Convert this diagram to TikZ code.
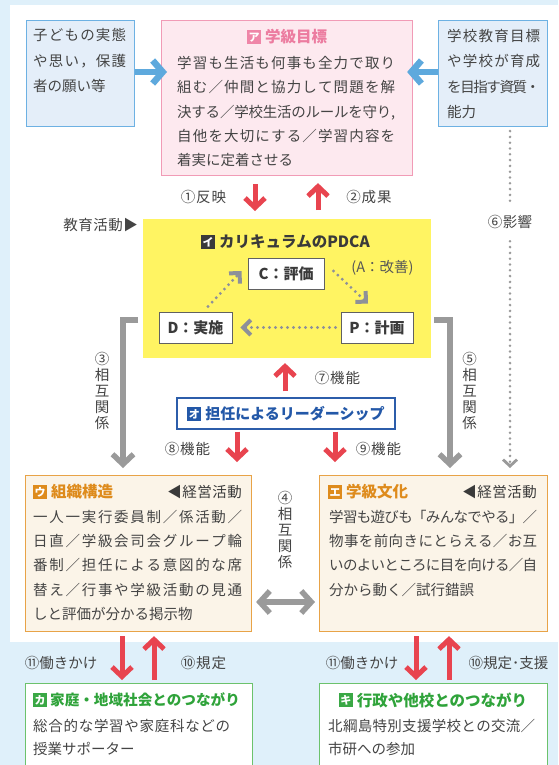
\documentclass[tikz,border=0pt]{standalone}
\usepackage{fontspec}
\setmainfont{Noto Sans CJK JP}
\usetikzlibrary{arrows.meta,calc}
\definecolor{bgblue}{HTML}{DFF0FA}
\definecolor{bbfill}{HTML}{E4EEF9}
\definecolor{bbdraw}{HTML}{6DB1E3}
\definecolor{pkfill}{HTML}{FDE9EF}
\definecolor{pkdraw}{HTML}{F19BB6}
\definecolor{pktext}{HTML}{EC7CA0}
\definecolor{pktag}{HTML}{EF86A8}
\definecolor{yel}{HTML}{FFF462}
\definecolor{ldraw}{HTML}{2C5DAA}
\definecolor{ltext}{HTML}{2358A8}
\definecolor{ordraw}{HTML}{E8A347}
\definecolor{orfill}{HTML}{FBF4E8}
\definecolor{ortext}{HTML}{DE8B1C}
\definecolor{grdraw}{HTML}{6CC26C}
\definecolor{grtext}{HTML}{2FA33A}
\definecolor{grtag}{HTML}{3AA845}
\definecolor{arred}{HTML}{E8444F}
\definecolor{argray}{HTML}{9A9A9A}
\definecolor{pdgray}{HTML}{8E9099}
\definecolor{arblue}{HTML}{5EA9DD}
\definecolor{txt}{HTML}{444444}
\definecolor{dark}{HTML}{3A3A3A}
\newdimen\cjkgap
\cjkgap=0pt
\makeatletter
\def\sprd#1{\sprd@b#1\relax}
\def\sprd@b#1{#1\sprd@a}
\def\sprd@a#1{\ifx#1\relax\else\hskip\cjkgap plus 1fil minus 1fil\relax#1\expandafter\sprd@a\fi}
\makeatother
\newcommand\jl[2]{\makebox[#1][s]{\sprd{#2}}}
\newcommand\nl[1]{\hbox{\sprd{#1}}}
\newcommand\lbl[2][1pt]{\hbox{\cjkgap=#1\relax\sprd{#2}}}
\newcommand\tg[2]{{\setlength{\fboxsep}{0pt}\colorbox{#1}{\makebox[14pt][c]{\rule[-1.3pt]{0pt}{14pt}\raisebox{1.3pt}{\color{white}\fontsize{11}{11}\selectfont\bfseries #2}}}}}
\tikzset{
  boxbase/.style={inner sep=0pt, anchor=north west, line width=1.1pt},
  bluebox/.style={boxbase, draw=bbdraw, fill=bbfill},
  pinkbox/.style={boxbase, draw=pkdraw, fill=pkfill},
  yelbox/.style={boxbase, fill=yel},
  pdcabox/.style={boxbase, anchor=center, draw=dark!80, line width=0.9pt, fill=white, text=dark, font=\fontsize{15}{18}\selectfont\bfseries},
  leadbox/.style={boxbase, anchor=center, draw=ldraw, fill=white, text=ltext, font=\fontsize{15}{18}\selectfont\bfseries},
  orbox/.style={boxbase, draw=ordraw, fill=orfill},
  grbox/.style={boxbase, draw=grdraw, fill=white},
  bodytxt/.style={inner sep=0pt, anchor=north west, align=left, text=txt},
  titletxt/.style={inner sep=0pt, font=\fontsize{15.5}{18}\selectfont\bfseries},
  lbltxt/.style={inner sep=0pt, text=txt, font=\fontsize{14.5}{18}\selectfont},
  vlbl/.style={inner sep=0pt, text=txt, align=center, font=\fontsize{14.5}{16.2}\selectfont},
  redarr/.style={draw=arred, line width=5pt, -{Straight Barb[length=9.5pt,width=20pt]}},
  bluearr/.style={draw=arblue, line width=6.5pt, -{Straight Barb[length=10pt,width=23pt]}},
  grayarr/.style={draw=argray, line width=5.5pt, -{Straight Barb[length=10pt,width=21pt]}},
  grayboth/.style={draw=argray, line width=5.5pt, {Straight Barb[length=10pt,width=22pt]}-{Straight Barb[length=10pt,width=22pt]}},
  pdcaarr/.style={draw=pdgray, line width=3.2pt, line cap=round, dash pattern=on 0pt off 6pt, -{Straight Barb[length=7.5pt,width=15pt,line width=4pt]}},
  dotarr/.style={draw=argray, line width=2.8pt, line cap=round, dash pattern=on 0pt off 5.8pt, -{Straight Barb[length=6.5pt,width=14pt,line width=2.8pt]}}
}
\begin{document}
\begin{tikzpicture}[x=1pt,y=-1pt]
\useasboundingbox (0,0) rectangle (558,765);
\fill[bgblue] (0,0) rectangle (558,765);
\fill[white] (10,5) rectangle (558,642);

% ---- boxes
\node[bluebox, minimum width=108pt, minimum height=106pt] (lblue) at (26,20) {};
\node[pinkbox, minimum width=251pt, minimum height=155pt] (pink) at (161,20) {};
\node[bluebox, minimum width=109pt, minimum height=106pt] (rblue) at (438,20) {};
\node[yelbox, minimum width=288pt, minimum height=139pt] (yellow) at (142,218) {};
\node[pdcabox, minimum width=76pt, minimum height=31pt] (C) at (286,273.5) {C：評価};
\node[pdcabox, minimum width=73pt, minimum height=31pt] (D) at (195.5,327.5) {D：実施};
\node[pdcabox, minimum width=72pt, minimum height=31pt] (P) at (377,327.5) {P：計画};
\node[leadbox, minimum width=218pt, minimum height=31pt] (lead) at (286,413.5) {\tg{ltext}{オ}\hspace{4pt}担任によるリーダーシップ};
\node[orbox, minimum width=226pt, minimum height=156pt] (U) at (25,475) {};
\node[orbox, minimum width=228pt, minimum height=156pt] (E) at (319,475) {};
\node[grbox, minimum width=227pt, minimum height=100pt] (KA) at (25,683) {};
\node[grbox, minimum width=228pt, minimum height=100pt] (KI) at (319,683) {};

% ---- box texts
\node[bodytxt, text width=100pt, font=\fontsize{14.5}{25.5}\selectfont] (lbluet) at (33,28.3)
  {\jl{93pt}{子どもの実態}\\\jl{93pt}{や思い，保護}\\\nl{者の願い等}};
\node[bodytxt, text width=100pt, font=\fontsize{14.5}{25.2}\selectfont] (rbluet) at (447,29.3)
  {\jl{93pt}{学校教育目標}\\\jl{93pt}{や学校が育成}\\\jl{93pt}{を目指す資質・}\\\nl{能力}};
\node[titletxt, text=pktext] (pinkh) at (287,37) {\tg{pktag}{ア}\hspace{4pt}学級目標};
\node[bodytxt, text width=225pt, font=\fontsize{14.5}{24.3}\selectfont] (pinkt) at (177,56)
  {\jl{218pt}{学習も生活も何事も全力で取り}\\\jl{218pt}{組む／仲間と協力して問題を解}\\\jl{218pt}{決する／学校生活のルールを守り,}\\\jl{218pt}{自他を大切にする／学習内容を}\\\nl{着実に定着させる}};
\node[titletxt, text=dark] (yelh) at (285.5,242) {\tg{dark}{イ}\hspace{4pt}カリキュラムのPDCA};
\node[lbltxt, text=dark!85] (act) at (382.5,268) {(A：改善)};

\node[titletxt, text=ortext, anchor=west] (Uh) at (33,492) {\tg{ortext}{ウ}\hspace{4pt}組織構造};
\node[lbltxt, anchor=east, text=dark] (Um) at (242,492) {\lbl[0.5pt]{◀経営活動}};
\node[bodytxt, text width=215pt, font=\fontsize{14.5}{24.2}\selectfont] (Ut) at (33,510)
  {\jl{209pt}{一人一実行委員制／係活動／}\\\jl{209pt}{日直／学級会司会グループ輪}\\\jl{209pt}{番制／担任による意図的な席}\\\jl{209pt}{替え／行事や学級活動の見通}\\\nl{しと評価が分かる掲示物}};
\node[titletxt, text=ortext, anchor=west] (Eh) at (328,492) {\tg{ortext}{エ}\hspace{4pt}学級文化};
\node[lbltxt, anchor=east, text=dark] (Em) at (537,492) {\lbl[0.5pt]{◀経営活動}};
\node[bodytxt, text width=215pt, font=\fontsize{14.5}{24.2}\selectfont] (Et) at (329,510)
  {\jl{208pt}{学習も遊びも「みんなでやる」／}\\\jl{208pt}{物事を前向きにとらえる／お互}\\\jl{208pt}{いのよいところに目を向ける／自}\\\nl{分から動く／試行錯誤}};

\node[titletxt, text=grtext, anchor=west, font=\fontsize{14.6}{18}\selectfont\bfseries] (KAh) at (33,700) {\tg{grtag}{カ}\hspace{3pt}家庭・地域社会とのつながり};
\node[bodytxt, text width=215pt, font=\fontsize{14.5}{22.3}\selectfont] (KAt) at (33,719.3)
  {\jl{197pt}{総合的な学習や家庭科などの}\\\nl{授業サポーター}};
\node[titletxt, text=grtext] (KIh) at (433,700) {\tg{grtag}{キ}\hspace{4pt}行政や他校とのつながり};
\node[bodytxt, text width=215pt, font=\fontsize{14.5}{22.3}\selectfont] (KIt) at (328,719.3)
  {\jl{207pt}{北綱島特別支援学校との交流／}\\\nl{市研への参加}};

% ---- connectors
\draw[bluearr, shorten >=-6pt] (lblue.east |- 0,72) -- (pink.west |- 0,72);
\draw[bluearr, shorten >=-6pt] (rblue.west |- 0,72) -- (pink.east |- 0,72);
\draw[redarr, shorten <=8pt, shorten >=7pt] (pink.south -| 255,0) -- (yellow.north -| 255,0);
\draw[redarr, shorten <=8pt, shorten >=7pt] (yellow.north -| 318,0) -- (pink.south -| 318,0);
\draw[pdcaarr] ($(D.north)+(12.5,-5)$) -- ($(C.west)+(-6,-2.5)$);
\draw[pdcaarr] ($(C.east)+(9,-2.5)$) -- ($(P.north)+(-9,-8)$);
\draw[pdcaarr] ($(P.west)+(-5,0)$) -- ($(D.east)+(8,0)$);
\draw[grayarr, shorten >=7pt] ($(yellow.west |- 0,320)+(-4,0)$) -| (U.north -| 123,0);
\draw[grayarr, shorten >=7pt] ($(yellow.east |- 0,320)+(3,0)$) -| (E.north -| 450,0);
\draw[dotarr, shorten <=4pt, shorten >=7pt] (rblue.south -| 510,0) -- (E.north -| 510,0);
\draw[redarr, shorten <=6pt, shorten >=5pt] (lead.north -| 285,0) -- (yellow.south -| 285,0);
\draw[redarr, shorten <=2pt, shorten >=13pt] (lead.south -| 237,0) -- (U.north -| 237,0);
\draw[redarr, shorten <=2pt, shorten >=13pt] (lead.south -| 335,0) -- (E.north -| 335,0);
\draw[grayboth, shorten <=4pt, shorten >=4pt] (U.east |- 0,602) -- (E.west |- 0,602);
\draw[redarr, shorten <=4pt, shorten >=3pt] (U.south -| 122,0) -- (KA.north -| 122,0);
\draw[redarr, shorten <=3pt, shorten >=4pt] (KA.north -| 154,0) -- (U.south -| 154,0);
\draw[redarr, shorten <=4pt, shorten >=3pt] (E.south -| 416,0) -- (KI.north -| 416,0);
\draw[redarr, shorten <=3pt, shorten >=4pt] (KI.north -| 449,0) -- (E.south -| 449,0);

% ---- labels
\node[lbltxt] (l1) at (203.5,197) {\lbl{①反映}};
\node[lbltxt] (l2) at (369,197) {\lbl{②成果}};
\node[lbltxt, anchor=east] (edu) at (138,225) {\lbl[0.5pt]{教育活動▶}};
\node[lbltxt, fill=white, inner xsep=1pt, inner ysep=11pt] (l6) at (510,222) {\lbl[0.5pt]{⑥影響}};
\node[lbltxt] (l7) at (337.5,378) {\lbl{⑦機能}};
\node[lbltxt] (l8) at (187.5,449) {\lbl{⑧機能}};
\node[lbltxt] (l9) at (378.5,449) {\lbl{⑨機能}};
\node[vlbl] (l3) at (102,391) {③\\相\\互\\関\\係};
\node[vlbl] (l5) at (469.5,391) {⑤\\相\\互\\関\\係};
\node[vlbl] (l4) at (285,530) {④\\相\\互\\関\\係};
\node[lbltxt] (l11a) at (61,663) {\lbl[0pt]{⑪働きかけ}};
\node[lbltxt] (l10a) at (203.5,663) {\lbl{⑩規定}};
\node[lbltxt] (l11b) at (362,663) {\lbl[0pt]{⑪働きかけ}};
\node[lbltxt] (l10b) at (508.5,663) {\lbl[0pt]{⑩規定･支援}};
\end{tikzpicture}
\end{document}
